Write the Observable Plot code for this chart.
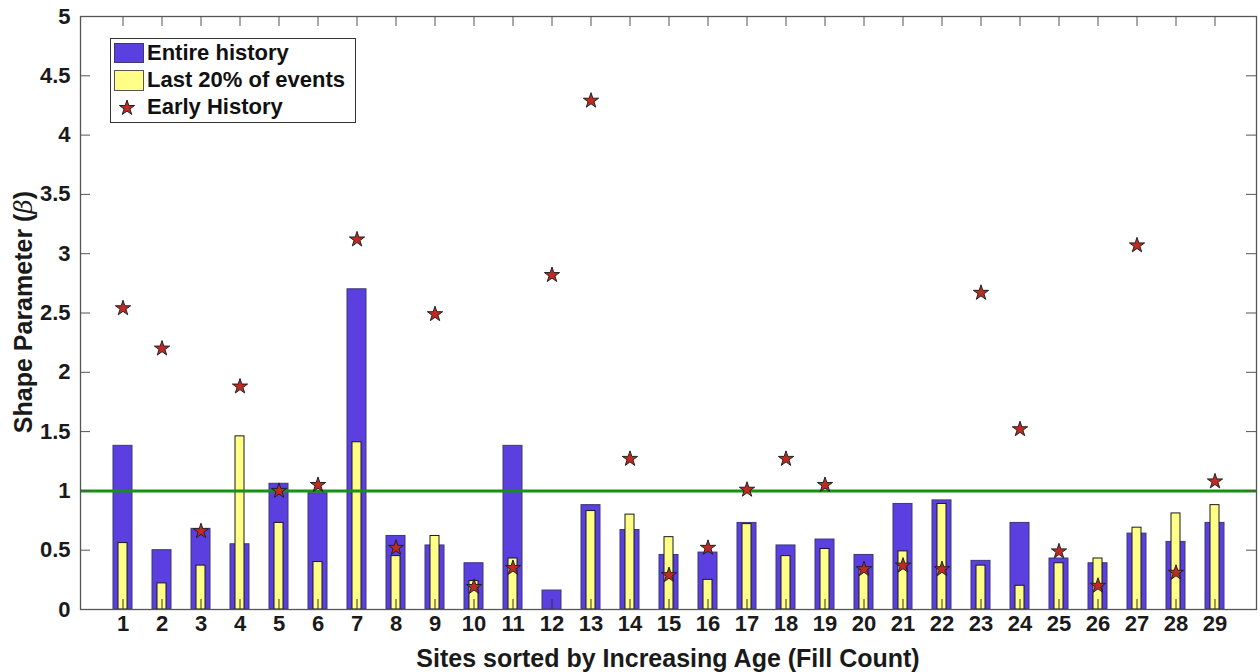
<!DOCTYPE html>
<html><head><meta charset="utf-8">
<script src="https://cdn.jsdelivr.net/npm/d3@7"></script>
<script src="https://cdn.jsdelivr.net/npm/@observablehq/plot@0.6"></script>
<style>body{margin:0;background:#fff;} svg{display:block}</style>
</head><body><div id="chart"></div>
<script>
const sites = [1,2,3,4,5,6,7,8,9,10,11,12,13,14,15,16,17,18,19,20,21,22,23,24,25,26,27,28,29];
const entireHistory = [1.38,0.50,0.68,0.55,1.06,0.98,2.70,0.62,0.54,0.39,1.38,0.16,0.88,0.67,0.46,0.48,0.73,0.54,0.59,0.46,0.89,0.92,0.41,0.73,0.43,0.39,0.64,0.57,0.73];
const last20 = [0.56,0.22,0.37,1.46,0.73,0.40,1.41,0.45,0.62,0.24,0.43,0,0.83,0.80,0.61,0.25,0.72,0.45,0.51,0.33,0.49,0.89,0.37,0.20,0.39,0.43,0.69,0.81,0.88];
const earlyHistory = [2.54,2.20,0.66,1.88,1.00,1.05,3.12,0.52,2.49,0.19,0.35,2.82,4.29,1.27,0.29,0.52,1.01,1.27,1.05,0.34,0.37,0.34,2.67,1.52,0.49,0.20,3.07,0.31,1.08];
const yTicks = [0,0.5,1,1.5,2,2.5,3,3.5,4,4.5,5];
const legendLabels = ["Entire history","Last 20% of events","Early History"];
const xLabel = "Sites sorted by Increasing Age (Fill Count)";
const yLabel = "Shape Parameter (";

const data = sites.map((s,i)=>({site:s, entire:entireHistory[i], last20:last20[i], early:earlyHistory[i]}));
const W=1260,H=672,mL=80,mR=4,mT=16,mB=63;
const iw=W-mL-mR, ih=H-mT-mB;
const font = "'Liberation Sans', Arial, Helvetica, sans-serif";
const blue="#5b3fe1", yellow="#ffff88", red="#c02a22", green="#149214", axisCol="#555";
const starR = 4.8;

const chart = Plot.plot({
  width:W, height:H, marginLeft:mL, marginRight:mR, marginTop:mT, marginBottom:mB,
  style:{fontFamily:font, fontSize:"22px", fontWeight:"bold", color:"#1a1a1a", background:"#fff", overflow:"visible"},
  x:{type:"band", domain:sites, paddingInner:0.52, paddingOuter:0.76, label:null},
  y:{domain:[0,5], label:null},
  marks:[
    Plot.barY(data, {x:"site", y:"entire", fill:blue, stroke:"#3b3b70", strokeWidth:1}),
    Plot.barY(data.filter(d=>d.last20>0), {x:"site", y:"last20", fill:yellow, stroke:"#1a1a1a", strokeWidth:1, insetLeft:5, insetRight:5}),
    Plot.ruleY([1], {stroke:green, strokeWidth:3}),
    Plot.dot(data, {x:"site", y:"early", symbol:"star", r:starR, fill:red, stroke:"#222", strokeWidth:1}),
    Plot.tickX(sites, {x:d=>d, insetTop:ih-10, stroke:"#333"}),
    Plot.tickX(sites, {x:d=>d, insetBottom:ih-10, stroke:axisCol}),
    Plot.tickY(yTicks, {y:d=>d, insetRight:iw-10, stroke:axisCol}),
    Plot.tickY(yTicks, {y:d=>d, insetLeft:iw-10, stroke:axisCol}),
    Plot.frame({stroke:axisCol, strokeWidth:1.3}),
    Plot.axisX({tickSize:0, tickPadding:6, label:null, fontSize:22}),
    Plot.axisY({ticks:yTicks, tickSize:0, tickPadding:10, label:null, fontSize:22, tickFormat:d=>String(d)})
  ]
});
document.getElementById("chart").append(chart);

const svg = d3.select(chart);
// axis labels
svg.append("text").attr("x", mL+iw/2).attr("y", 667).attr("text-anchor","middle")
  .attr("font-family",font).attr("font-size",25).attr("font-weight","bold").attr("fill","#1a1a1a").text(xLabel);
const yl = svg.append("text").attr("transform","translate(32,312) rotate(-90)").attr("text-anchor","middle")
  .attr("font-family",font).attr("font-size",25).attr("font-weight","bold").attr("fill","#1a1a1a");
yl.append("tspan").text(yLabel);
yl.append("tspan").attr("font-style","italic").attr("font-weight","normal").attr("font-family","'DejaVu Serif', serif").text("β");
yl.append("tspan").text(")");

// legend
const lg = svg.append("g");
lg.append("rect").attr("x",110.5).attr("y",38.5).attr("width",245).attr("height",84).attr("fill","#fff").attr("stroke","#333");
lg.append("rect").attr("x",114.5).attr("y",43.5).attr("width",29).attr("height",19).attr("fill",blue).attr("stroke","#3b3b70");
lg.append("rect").attr("x",114.5).attr("y",70.5).attr("width",29).attr("height",20).attr("fill",yellow).attr("stroke","#555");
lg.append("path").attr("d", d3.symbol(d3.symbolStar, starR*starR*Math.PI)()).attr("transform","translate(127,108)")
  .attr("fill",red).attr("stroke","#222");
legendLabels.forEach((t,i)=>{
  lg.append("text").attr("x",147).attr("y",[60,87,114][i]).attr("text-anchor","start").attr("font-family",font).attr("font-size",22)
    .attr("font-weight","bold").attr("fill","#111").text(t);
});
</script></body></html>
